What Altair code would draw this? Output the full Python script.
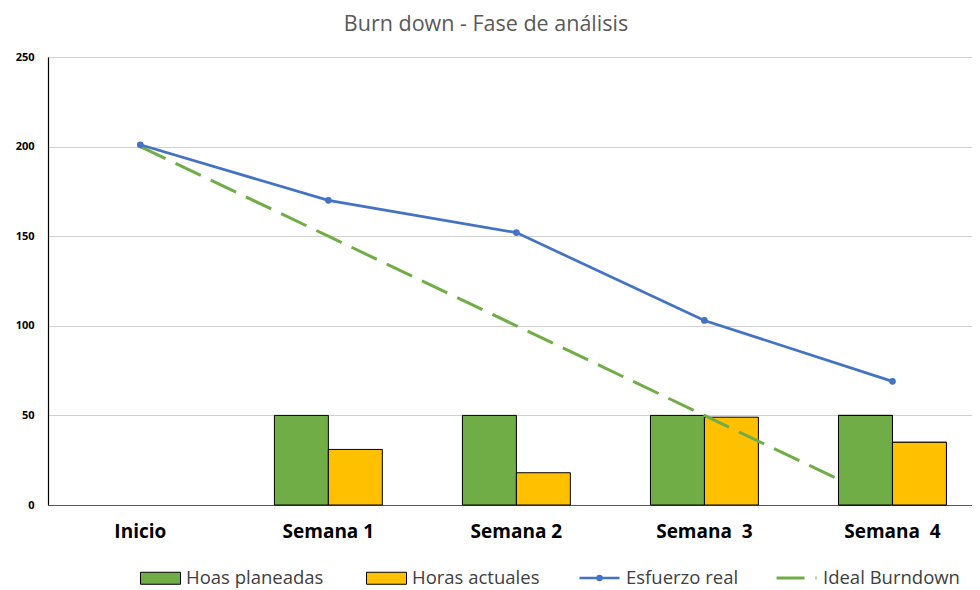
import altair as alt
import pandas as pd

# ---- data ----
categorias = ["Inicio", "Semana 1", "Semana 2", "Semana \u00a03", "Semana \u00a04"]
series_barras = ["Hoas planeadas", "Horas actuales"]
hoas_planeadas = [None, 50, 50, 50, 50]
horas_actuales = [None, 31, 18, 49, 35]
serie_real = "Esfuerzo real"
esfuerzo_real = [201, 170, 152, 103, 69]
serie_ideal = "Ideal Burndown"
ideal_burndown = [200, 150, 100, 50, 0]
y_ticks = [0, 50, 100, 150, 200, 250]

# ---- tables built from the arrays ----
bars_df = pd.DataFrame({
    "cat": categorias * 2,
    "serie": [series_barras[0]] * len(categorias) + [series_barras[1]] * len(categorias),
    "valor": hoas_planeadas + horas_actuales,
})
real_df = pd.DataFrame({"cat": categorias, "valor": esfuerzo_real, "serie": [serie_real] * len(categorias)})
ideal_df = pd.DataFrame({"cat": categorias, "valor": ideal_burndown, "serie": [serie_ideal] * len(categorias)})

FONT = "Open Sans"
GREEN = "#70AD47"
YELLOW = "#FFC000"
BLUE = "#4472C4"

x_enc = alt.X(
    "cat:N",
    sort=categorias,
    scale=alt.Scale(domain=categorias, paddingInner=0.426, paddingOuter=0.17, align=0.6),
    axis=alt.Axis(
        title=None, labelAngle=0, labelFont=FONT, labelFontWeight="bold",
        labelFontSize=19, labelColor="black", labelPadding=17, ticks=False,
        domainColor="#595959", domainWidth=1.2, grid=False,
    ),
)
y_enc = alt.Y(
    "valor:Q",
    scale=alt.Scale(domain=[0, 250], nice=False),
    axis=alt.Axis(
        title=None, values=y_ticks, labelFont=FONT, labelFontWeight="bold",
        labelFontSize=11, labelColor="black", ticks=False, labelPadding=14,
        domainColor="black", domainWidth=1.2, gridColor="#d0d0d0", gridWidth=1,
    ),
)

LEG_Y = 513
common_leg = dict(
    orient="none", direction="horizontal", title=None, labelFont=FONT,
    labelFontSize=18.5, labelColor="#404040", labelOffset=5, clipHeight=16,
    symbolSize=1600, legendY=LEG_Y,
)

fill_scale = alt.Scale(domain=series_barras, range=[GREEN, YELLOW])

bars = alt.Chart(bars_df).transform_filter("datum.valor != null").mark_bar(
    stroke="black", strokeWidth=1
).encode(
    x=x_enc,
    y=y_enc,
    xOffset=alt.XOffset("serie:N", sort=series_barras,
                        scale=alt.Scale(domain=series_barras, paddingInner=0, paddingOuter=0)),
    fill=alt.Fill(
        "serie:N", scale=fill_scale,
        legend=alt.Legend(
            legendX=92, columnPadding=42,
            symbolType="M-1,-0.3H1V0.3H-1Z", symbolStrokeColor="black",
            symbolStrokeWidth=1, **common_leg,
        ),
    ),
)

ideal = alt.Chart(ideal_df).mark_line(color=GREEN, strokeWidth=3).encode(
    x=alt.X("cat:N", sort=categorias),
    y="valor:Q",
    strokeDash=alt.StrokeDash(
        "serie:N",
        scale=alt.Scale(domain=[serie_ideal], range=[[28, 11]]),
        legend=alt.Legend(
            legendX=727, symbolType="M-1,0H1", symbolStrokeWidth=3,
            symbolStrokeColor=GREEN, **common_leg,
        ),
    ),
)

real_line = alt.Chart(real_df).mark_line(strokeWidth=2.7).encode(
    x=alt.X("cat:N", sort=categorias),
    y="valor:Q",
    stroke=alt.Stroke(
        "serie:N",
        scale=alt.Scale(domain=[serie_real], range=[BLUE]),
        legend=alt.Legend(
            legendX=530,
            symbolType="M-1,0H1M-0.1,0A0.1,0.1 0 1 1 0.1,0A0.1,0.1 0 1 1 -0.1,0",
            symbolStrokeWidth=2.5, **common_leg,
        ),
    ),
)

real_pts = alt.Chart(real_df).mark_point(filled=True, size=45, color=BLUE, opacity=1).encode(
    x=alt.X("cat:N", sort=categorias),
    y="valor:Q",
)

# Semana 4 bars are drawn over the ideal line, as in the reference
bars_top = alt.Chart(bars_df).transform_filter(
    alt.FieldEqualPredicate(field="cat", equal=categorias[-1])
).mark_bar(stroke="black", strokeWidth=1).encode(
    x=alt.X("cat:N", sort=categorias),
    y="valor:Q",
    xOffset=alt.XOffset("serie:N", sort=series_barras),
    fill=alt.Fill("serie:N", scale=fill_scale, legend=None),
)

chart = alt.layer(bars, ideal, real_line, real_pts, bars_top).resolve_scale(
    fill="shared"
).resolve_legend(
    fill="independent", stroke="independent", strokeDash="independent"
).properties(
    width=924,
    height=448,
    autosize=alt.AutoSizeParams(type="none"),
    padding={"left": 40, "top": 49, "right": 0, "bottom": 85},
    title=alt.Title(
        "Burn down - Fase de análisis", font=FONT, fontSize=21.5,
        fontWeight="normal", color="#595959", anchor="middle", dx=-24, offset=16,
    ),
).configure_view(stroke=None).configure(background="white")

chart.save("out.html", embed_options={"renderer": "svg", "actions": False})
